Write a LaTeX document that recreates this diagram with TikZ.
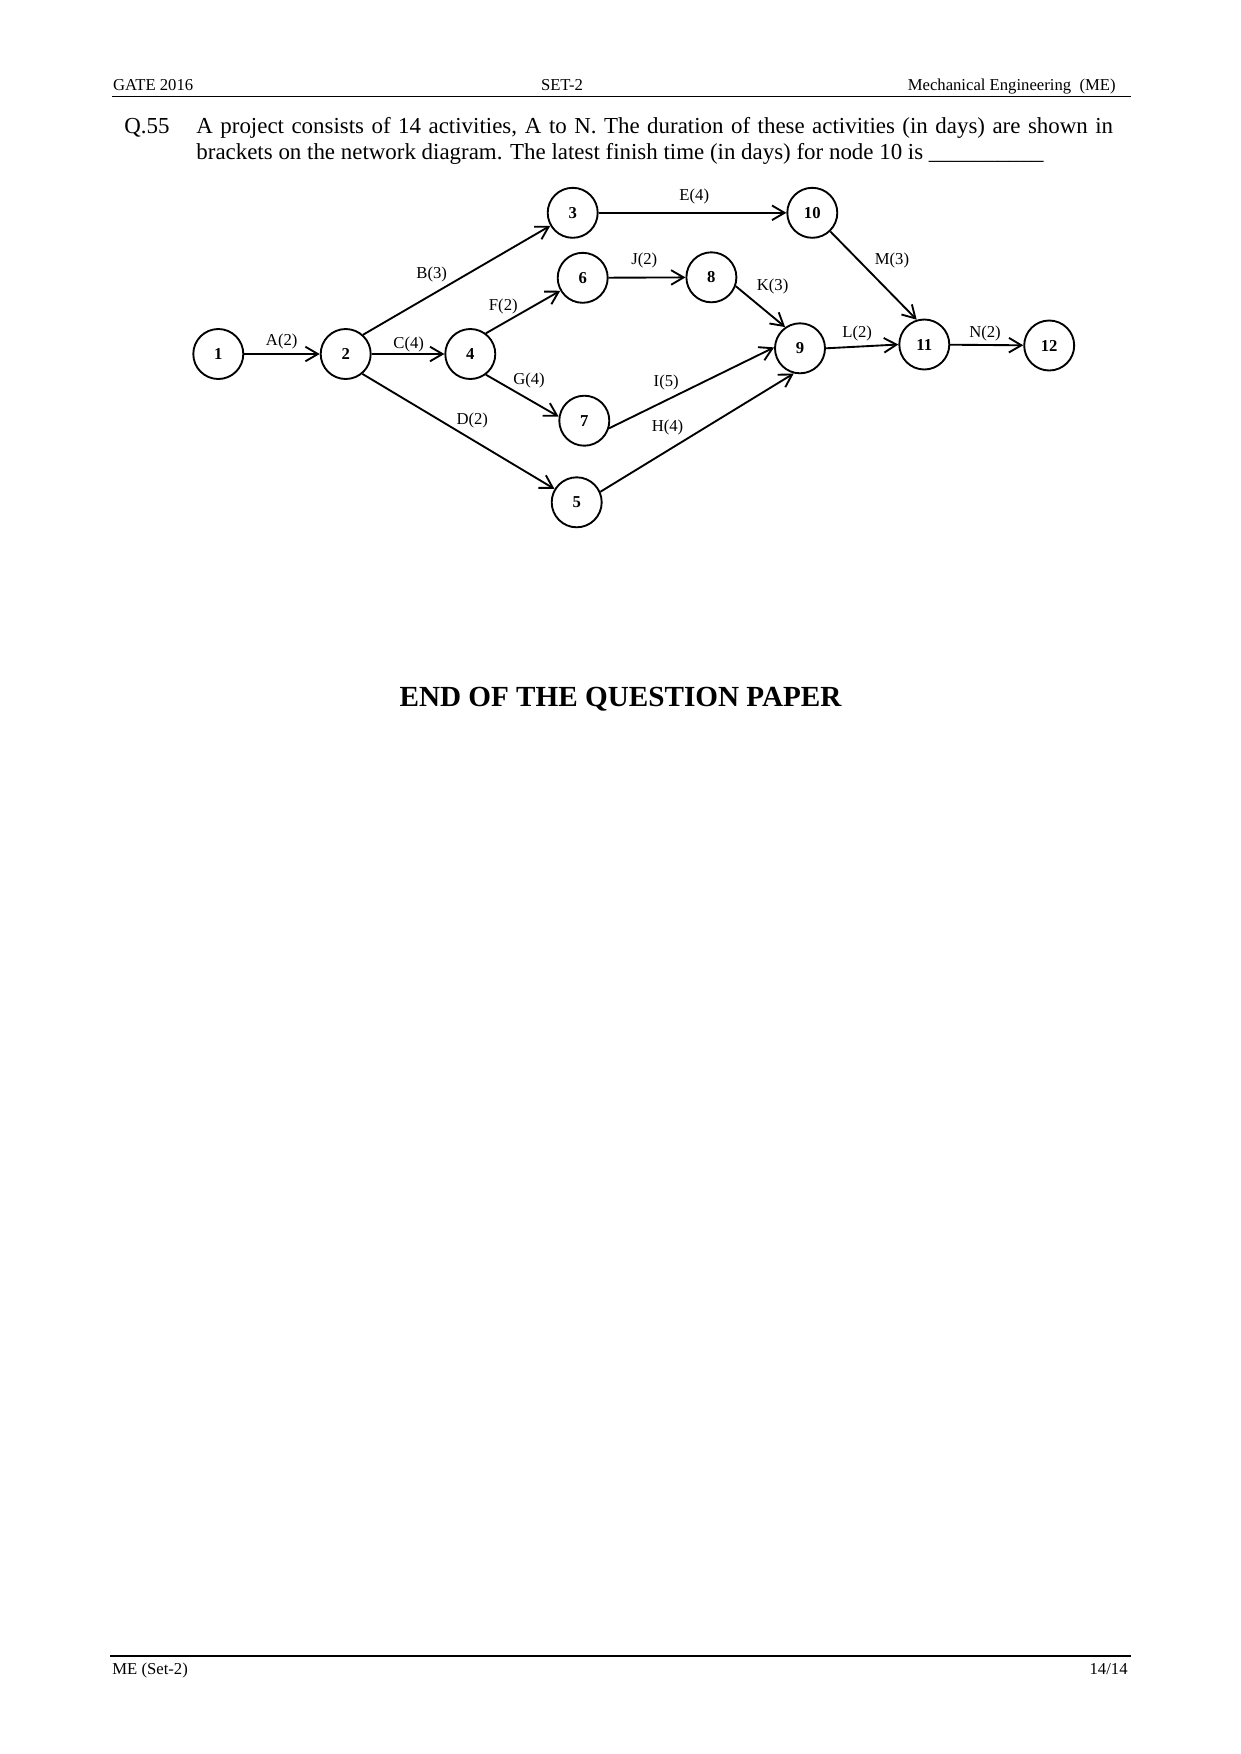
\documentclass[tikz,border=0pt]{standalone}
\usepackage{fontspec}
\setmainfont{Liberation Serif}
\usetikzlibrary{arrows.meta}
\tikzset{
  px/.style={x=0.48pt,y=-0.48pt},
  ev/.style={circle,draw,line width=0.9pt,minimum size=24pt,inner sep=0pt,font=\bfseries\fontsize{8}{9.6}\selectfont},
  act/.style={line width=0.9pt,-{Straight Barb[length=6pt,width=7pt,line width=0.9pt]}},
  lab/.style={inner sep=0pt,font=\fontsize{8}{9.6}\selectfont},
  hdr/.style={inner sep=0pt,font=\fontsize{8}{9.6}\selectfont},
  qtext/.style={inner sep=0pt,font=\fontsize{11}{12.5}\selectfont},
  rulebar/.style={line width=0.9pt},
}
\begin{document}
\begin{tikzpicture}[px]
\useasboundingbox (0,0) rectangle (1241,1754);
% header
\node[hdr,anchor=base west] (hl) at (112.7,90) {GATE 2016};
\node[hdr,anchor=base] (hc) at (562,90) {SET-2};
\node[hdr,anchor=base east] (hr) at (1116,90) {Mechanical Engineering\ \ (ME)};
\coordinate (h1) at (112,96.5);
\coordinate (h2) at (1131,96.5);
\draw[rulebar] (h1) -- (h2);
% question
\node[qtext,anchor=base west] (q) at (124,133) {Q.55};
\node[qtext,anchor=base west] (l1) at (196,133) {\hbox to 440pt{A project consists of 14 activities, A to N. The duration of these activities (in days) are shown in}};
\node[qtext,anchor=base west] (l2) at (196,159.3) {brackets on the network diagram. The latest finish time (in days) for node 10 is \_\_\_\_\_\_\_\_\_\_};
% network
\node[ev] (n1) at (218.3,354) {1};
\node[ev] (n2) at (345.7,354) {2};
\node[ev] (n4) at (470.3,354) {4};
\node[ev] (n3) at (572.7,212.8) {3};
\node[ev] (n6) at (582.7,277.8) {6};
\node[ev] (n7) at (584.3,420.7) {7};
\node[ev] (n5) at (576.7,502.3) {5};
\node[ev] (n10) at (812.3,212.8) {10};
\node[ev] (n8) at (711.4,277.3) {8};
\node[ev] (n9) at (800,348.3) {9};
\node[ev] (n11) at (924.3,344.5) {11};
\node[ev] (n12) at (1049.2,345.5) {12};
\draw[act] (n1) -- (n2);
\draw[act] (n2.48) -- (n3.210);
\draw[act] (n2) -- (n4);
\draw[act] (n2.-50) -- (n5.149);
\draw[act] (n3) -- (n10);
\draw[act] (n4.53) -- (n6.210);
\draw[act] (n4.-53) -- (n7.171);
\draw[act] (n6) -- (n8);
\draw[act] (n8.-20) -- (n9.125);
\draw[act] (n7.-17) -- (n9.178);
\draw[act] (n5.24) -- (n9.-104);
\draw[act] (n9.east) -- (n11.west);
\draw[act] (n10.-46) -- (n11.107);
\draw[act] (n11) -- (n12);
\node[lab] (la) at (281.7,341.7) {A(2)};
\node[lab] (lb) at (431.7,274) {B(3)};
\node[lab] (lc) at (408.7,344) {C(4)};
\node[lab] (ld) at (472.3,420.7) {D(2)};
\node[lab] (le) at (694.3,196.7) {E(4)};
\node[lab] (lf) at (503.3,306.7) {F(2)};
\node[lab] (lg) at (529,380) {G(4)};
\node[lab] (lh) at (667.5,427.7) {H(4)};
\node[lab] (li) at (666.2,382.3) {I(5)};
\node[lab] (lj) at (644.3,260.7) {J(2)};
\node[lab] (lk) at (772.6,286) {K(3)};
\node[lab] (ll) at (857.2,333.3) {L(2)};
\node[lab] (lm) at (892,260) {M(3)};
\node[lab] (ln) at (985,333.3) {N(2)};
% end
\node[inner sep=0pt,anchor=base,font=\bfseries\fontsize{14}{16.8}\selectfont] (endt) at (620.5,706.7) {END OF THE QUESTION PAPER};
% footer
\coordinate (f1) at (110,1656);
\coordinate (f2) at (1131,1656);
\draw[rulebar] (f1) -- (f2);
\node[hdr,anchor=base west] (fl) at (112,1674.3) {ME (Set-2)};
\node[hdr,anchor=base east] (fr) at (1128,1674.3) {14/14};
\end{tikzpicture}
\end{document}
